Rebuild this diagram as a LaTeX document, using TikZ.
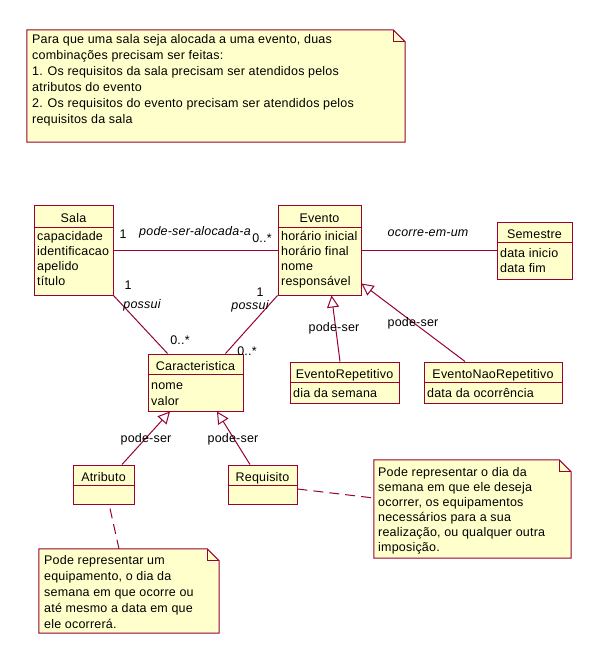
\documentclass[tikz,border=0pt]{standalone}
\usepackage{fontspec}
\setmainfont[LetterSpace=1.6]{Liberation Sans}
\usetikzlibrary{arrows.meta,calc,fit}
\definecolor{umlline}{RGB}{153,0,51}
\definecolor{umlfill}{RGB}{255,255,204}
\newcommand\uf{\fontsize{12.5}{15}\selectfont}
\begin{document}
\begin{tikzpicture}[x=1pt,y=-1pt,
  box/.style={draw=umlline, fill=umlfill, line width=1pt, inner sep=0pt},
  notebox/.style={draw=none, inner sep=0pt},
  notepath/.style={draw=umlline, fill=umlfill, line width=1pt, line join=miter},
  sep/.style={draw=umlline, line width=1pt},
  link/.style={draw=umlline, line width=1pt},
  gen/.style={link, -{Triangle[open,length=12pt,width=12pt,line width=1pt]}},
  notelink/.style={link, dash pattern=on 10pt off 6pt},
  txt/.style={font=\uf, inner sep=0pt, anchor=base west},
  ttl/.style={font=\uf, inner sep=0pt, anchor=base},
  lbl/.style={font=\uf, inner sep=0pt},
  ilbl/.style={font=\uf\itshape, inner sep=0pt}]
\useasboundingbox (0,0) rectangle (599,666);
\fill[white] (0,0) rectangle (599,666);

% ---------- top note ----------
\node[notebox, fit={(27,30) (405,142)}] (n1) {};
\draw[notepath] (n1.north west) -- ([xshift=-12pt]n1.north east) -- ([yshift=-12pt]n1.north east) -- (n1.south east) -- (n1.south west) -- cycle;
\draw[sep] ([xshift=-12pt]n1.north east) -- ([xshift=-12pt,yshift=-12pt]n1.north east) -- ([yshift=-12pt]n1.north east);
\node[txt] (n1a) at (32,44) {Para que uma sala seja alocada a uma evento, duas};
\node[txt] (n1b) at (32,60) {combinações precisam ser feitas:};
\node[txt] (n1c) at (32,76) {1. Os requisitos da sala precisam ser atendidos pelos};
\node[txt] (n1d) at (32,92) {atributos do evento};
\node[txt] (n1e) at (32,108) {2. Os requisitos do evento precisam ser atendidos pelos};
\node[txt] (n1f) at (32,124) {requisitos da sala};

% ---------- Sala ----------
\node[box, fit={(34,205) (113,295)}] (sala) {};
\draw[sep] (34,227) -- (113,227);
\node[ttl] (salaT) at (73.5,222) {Sala};
\node[txt] (salaA) at (37,240) {capacidade};
\node[txt] (salaB) at (37,255) {identificacao};
\node[txt] (salaC) at (37,270) {apelido};
\node[txt] (salaD) at (37,285) {título};

% ---------- Evento ----------
\node[box, fit={(278,205) (361,295)}] (evento) {};
\draw[sep] (278,227) -- (361,227);
\node[ttl] (eventoT) at (319.5,222) {Evento};
\node[txt] (eventoA) at (281,240) {horário inicial};
\node[txt] (eventoB) at (281,255) {horário final};
\node[txt] (eventoC) at (281,270) {nome};
\node[txt] (eventoD) at (281,285) {responsável};

% ---------- Semestre ----------
\node[box, fit={(497,222) (572,279)}] (sem) {};
\draw[sep] (497,242) -- (572,242);
\node[ttl] (semT) at (534.5,238) {Semestre};
\node[txt] (semA) at (500,257) {data inicio};
\node[txt] (semB) at (500,272) {data fim};

% ---------- EventoRepetitivo ----------
\node[box, fit={(290,362) (399,403)}] (er) {};
\draw[sep] (290,382) -- (399,382);
\node[ttl] (erT) at (344.5,378) {EventoRepetitivo};
\node[txt] (erA) at (293,397) {dia da semana};

% ---------- EventoNaoRepetitivo ----------
\node[box, fit={(424,362) (562,403)}] (enr) {};
\draw[sep] (424,382) -- (562,382);
\node[ttl] (enrT) at (493,378) {EventoNaoRepetitivo};
\node[txt] (enrA) at (427,397) {data da ocorrência};

% ---------- Caracteristica ----------
\node[box, fit={(148,354) (243,411)}] (car) {};
\draw[sep] (148,374) -- (243,374);
\node[ttl] (carT) at (195.5,370) {Caracteristica};
\node[txt] (carA) at (151,389) {nome};
\node[txt] (carB) at (151,405) {valor};

% ---------- Atributo ----------
\node[box, fit={(73,465) (134,504)}] (atr) {};
\draw[sep] (73,485) -- (134,485);
\node[ttl] (atrT) at (103.5,481) {Atributo};

% ---------- Requisito ----------
\node[box, fit={(228,465) (297,504)}] (req) {};
\draw[sep] (228,485) -- (297,485);
\node[ttl] (reqT) at (262.5,481) {Requisito};

% ---------- note Atributo ----------
\node[notebox, fit={(39,549) (219,633)}] (n2) {};
\draw[notepath] (n2.north west) -- ([xshift=-12pt]n2.north east) -- ([yshift=-12pt]n2.north east) -- (n2.south east) -- (n2.south west) -- cycle;
\draw[sep] ([xshift=-12pt]n2.north east) -- ([xshift=-12pt,yshift=-12pt]n2.north east) -- ([yshift=-12pt]n2.north east);
\node[txt] (n2a) at (44,564) {Pode representar um};
\node[txt] (n2b) at (44,580) {equipamento, o dia da};
\node[txt] (n2c) at (44,596) {semana em que ocorre ou};
\node[txt] (n2d) at (44,612) {até mesmo a data em que};
\node[txt] (n2e) at (44,628) {ele ocorrerá.};

% ---------- note Requisito ----------
\node[notebox, fit={(374,460) (571,558)}] (n3) {};
\draw[notepath] (n3.north west) -- ([xshift=-12pt]n3.north east) -- ([yshift=-12pt]n3.north east) -- (n3.south east) -- (n3.south west) -- cycle;
\draw[sep] ([xshift=-12pt]n3.north east) -- ([xshift=-12pt,yshift=-12pt]n3.north east) -- ([yshift=-12pt]n3.north east);
\node[txt] (n3a) at (378,476) {Pode representar o dia da};
\node[txt] (n3b) at (378,491) {semana em que ele deseja};
\node[txt] (n3c) at (378,506) {ocorrer, os equipamentos};
\node[txt] (n3d) at (378,521) {necessários para a sua};
\node[txt] (n3e) at (378,536) {realização, ou qualquer outra};
\node[txt] (n3f) at (378,551) {imposição.};

% ---------- connectors ----------
\draw[link] (sala.east) -- (evento.west);
\draw[link] (evento.east) -- (evento.east -| sem.west);
\draw[link] (sala.south east) -- ([xshift=20pt]car.north west);
\draw[link] (evento.south west) -- ([xshift=-18pt]car.north east);
\draw[gen] ([xshift=-4.5pt]er.north) -- ([xshift=12pt]evento.south);
\draw[gen] ([xshift=-28pt]enr.north) -- ([yshift=12pt]evento.south east);
\draw[gen] ([xshift=18.5pt]atr.north) -- ([xshift=-25.5pt]car.south);
\draw[gen] ([xshift=-12.5pt]req.north) -- ([xshift=21.5pt]car.south);
\draw[notelink] ([xshift=6.5pt,yshift=-4pt]atr.south) -- ([xshift=-10pt]n2.north);
\draw[notelink] ([yshift=-4.5pt]req.east) -- ([yshift=11pt]n3.west);

% ---------- labels ----------
\node[lbl] (m1) at (123,234) {1};
\node[ilbl] (r1) at (195,232) {pode-ser-alocada-a};
\node[lbl] (m2) at (262,238) {0..*};
\node[ilbl] (r2) at (428,233) {ocorre-em-um};
\node[lbl] (m3) at (128,285) {1};
\node[ilbl] (r3) at (142,305) {possui};
\node[lbl] (m4) at (180,340) {0..*};
\node[lbl] (m5) at (260,292) {1};
\node[ilbl] (r4) at (250,306) {possui};
\node[lbl] (m6) at (247,351) {0..*};
\node[lbl] (g1) at (334,328) {pode-ser};
\node[lbl] (g2) at (413,323) {pode-ser};
\node[lbl] (g3) at (146,439) {pode-ser};
\node[lbl] (g4) at (233,439) {pode-ser};
\end{tikzpicture}
\end{document}
